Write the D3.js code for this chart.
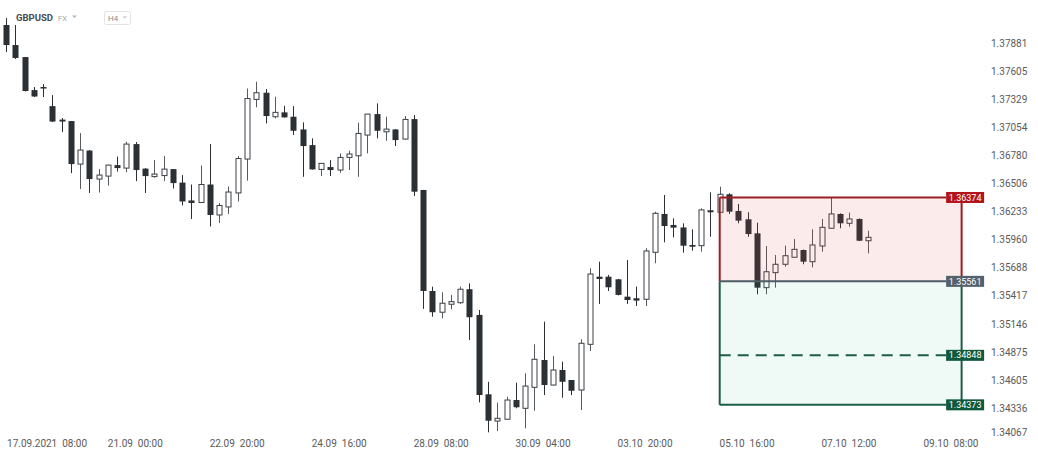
<!DOCTYPE html>
<html><head><meta charset="utf-8">
<script src="https://cdn.jsdelivr.net/npm/d3@7"></script>
<style>body{margin:0;background:#fff}svg{display:block;font-family:Roboto,"Noto Sans",sans-serif}</style>
</head><body>
<svg id="chart" width="1038" height="457"></svg>
<script>
// ---- data (GBPUSD, H4) ----
const opens = [1.38061,1.37864,1.37746,1.37422,1.37452,1.37265,1.37133,1.37119,1.36699,1.36831,
1.36553,1.36582,1.36689,1.36660,1.36894,1.36655,1.36577,1.36587,1.36650,1.36519,
1.36345,1.36325,1.36500,1.36204,1.36282,1.36418,1.36748,1.37331,1.37396,1.37161,
1.37204,1.37161,1.37037,1.36884,1.36647,1.36670,1.36641,1.36764,1.36780,1.36982,
1.37187,1.37014,1.37037,1.36943,1.37138,1.36447,1.35468,1.35263,1.35340,1.35355,
1.35485,1.35237,1.34474,1.34218,1.34235,1.34419,1.34340,1.34541,1.34803,1.34563,
1.34707,1.34611,1.34515,1.34954,1.35606,1.35606,1.35581,1.35413,1.35398,1.35388,
1.35842,1.36214,1.36107,1.36083,1.35913,1.35906,1.36250,1.36230,1.36405,1.36243,
1.36162,1.36026,1.35500,1.35645,1.35726,1.35794,1.35864,1.35751,1.35903,1.36075,
1.36214,1.36123,1.36165,1.35954];
const closes = [1.37864,1.37737,1.37413,1.37359,1.37437,1.37114,1.37114,1.36699,1.36836,1.36553,
1.36592,1.36689,1.36660,1.36894,1.36641,1.36582,1.36602,1.36650,1.36514,1.36335,
1.36320,1.36500,1.36204,1.36296,1.36427,1.36753,1.37339,1.37396,1.37168,1.37204,
1.37155,1.37024,1.36875,1.36647,1.36706,1.36641,1.36764,1.36797,1.36998,1.37187,
1.37024,1.37040,1.36933,1.37135,1.36430,1.35468,1.35263,1.35350,1.35365,1.35485,
1.35215,1.34467,1.34221,1.34244,1.34419,1.34350,1.34553,1.34810,1.34563,1.34707,
1.34594,1.34508,1.34964,1.35632,1.35584,1.35504,1.35430,1.35381,1.35375,1.35855,
1.36220,1.36097,1.36081,1.35906,1.35896,1.36253,1.36230,1.36405,1.36236,1.36149,
1.36019,1.35500,1.35654,1.35726,1.35809,1.35871,1.35751,1.35913,1.36084,1.36214,
1.36123,1.36165,1.35954,1.35987];
const highs = [1.38129,1.38061,1.37746,1.37452,1.37481,1.37373,1.37148,1.37119,1.37001,1.36836,
1.36650,1.36694,1.36772,1.36918,1.36914,1.36660,1.36738,1.36777,1.36650,1.36592,
1.36500,1.36684,1.36894,1.36320,1.36481,1.36777,1.37437,1.37504,1.37432,1.37357,
1.37268,1.37265,1.37106,1.36950,1.36709,1.36738,1.36803,1.36829,1.37102,1.37187,
1.37292,1.37161,1.37040,1.37168,1.37177,1.36447,1.35510,1.35456,1.35430,1.35510,
1.35542,1.35285,1.34594,1.34394,1.34451,1.34585,1.34675,1.34954,1.35172,1.34841,
1.34787,1.34611,1.35002,1.35687,1.35751,1.35622,1.35584,1.35767,1.35510,1.35881,
1.36236,1.36398,1.36172,1.36123,1.36065,1.36269,1.36424,1.36479,1.36415,1.36311,
1.36230,1.36129,1.35903,1.35816,1.35906,1.35971,1.35869,1.36065,1.36165,1.36374,
1.36219,1.36226,1.36170,1.36051];
const lows = [1.37796,1.37727,1.37408,1.37354,1.37354,1.37109,1.37011,1.36611,1.36456,1.36418,
1.36422,1.36490,1.36626,1.36621,1.36533,1.36418,1.36567,1.36533,1.36461,1.36296,
1.36165,1.36320,1.36092,1.36126,1.36214,1.36335,1.36538,1.37253,1.37096,1.37145,
1.37153,1.36982,1.36575,1.36645,1.36582,1.36582,1.36614,1.36641,1.36575,1.36803,
1.36950,1.36926,1.36875,1.36938,1.36389,1.35295,1.35220,1.35205,1.35292,1.35343,
1.34996,1.34397,1.34110,1.34123,1.34233,1.34340,1.34148,1.34317,1.34467,1.34558,
1.34441,1.34467,1.34324,1.34890,1.35343,1.35468,1.35425,1.35343,1.35323,1.35323,
1.35736,1.35939,1.35987,1.35838,1.35857,1.35848,1.35993,1.36228,1.36214,1.36123,
1.35993,1.35436,1.35436,1.35500,1.35703,1.35792,1.35726,1.35697,1.35848,1.36073,
1.36075,1.36090,1.35951,1.35832];

const xTickIndex = [3, 14, 25, 36, 47, 58, 69, 80, 91, 102];
const xTickLabels = ["17.09.2021  08:00","21.09  00:00","22.09  20:00","24.09  16:00","28.09  08:00",
  "30.09  04:00","03.10  20:00","05.10  16:00","07.10  12:00","09.10  08:00"];
const yTickValues = [1.37881,1.37605,1.37329,1.37054,1.36780,1.36506,1.36233,1.35960,1.35688,
  1.35417,1.35146,1.34875,1.34605,1.34336,1.34067];

// trade box levels: stop, entry, target 1, target 2
const tradeLevels = [1.36374, 1.35561, 1.34848, 1.34373];
const tradeStartIndex = 77;
const tradeEndIndex = 103.1;

// ---- chart ----
const W = 1038, H = 457;
const svg = d3.select("#chart");
const n = opens.length;
const x = d3.scaleLinear().domain([0, n - 1]).range([6, 868]);
const y = d3.scaleLog().domain([1.34336, 1.37881]).range([408.7, 43.3]);

const DARK = "#2b3035";
const bodyW = 6;

const candles = d3.range(n).map(i => ({i, o: opens[i], c: closes[i], h: highs[i], l: lows[i]}));

const cg = svg.append("g");
cg.selectAll("line.wick").data(candles).join("line")
  .attr("class", "wick")
  .attr("x1", d => Math.round(x(d.i)) + 0.5).attr("x2", d => Math.round(x(d.i)) + 0.5)
  .attr("y1", d => y(d.h)).attr("y2", d => y(d.l))
  .attr("stroke", d => d.c >= d.o ? "#555a5e" : DARK).attr("stroke-width", 1);

cg.selectAll("rect.body").data(candles).join("rect")
  .attr("class", "body")
  .attr("x", d => Math.round(x(d.i)) - bodyW / 2 + (d.c >= d.o ? 1 : 0.5))
  .attr("width", d => d.c >= d.o ? bodyW - 1 : bodyW)
  .attr("y", d => y(Math.max(d.o, d.c)))
  .attr("height", d => Math.max(1.5, Math.abs(y(d.o) - y(d.c))))
  .attr("fill", d => d.c >= d.o ? "#fff" : DARK)
  .attr("stroke", d => d.c >= d.o ? "#3a3f44" : "none")
  .attr("stroke-width", 1);

// ---- trade box ----
const bx0 = x(tradeStartIndex);
const bx1 = x(tradeEndIndex);
const labelX = bx1 - 15.5;
const bg = svg.append("g");
bg.append("rect").attr("x", bx0).attr("width", bx1 - bx0)
  .attr("y", y(tradeLevels[0])).attr("height", y(tradeLevels[1]) - y(tradeLevels[0]))
  .attr("fill", "rgba(232,70,70,0.11)");
bg.append("rect").attr("x", bx0).attr("width", bx1 - bx0)
  .attr("y", y(tradeLevels[1])).attr("height", y(tradeLevels[3]) - y(tradeLevels[1]))
  .attr("fill", "rgba(40,170,120,0.075)");

const RED = "#9c1d22", GRAY = "#4e5c65", GREEN = "#1f5c45";
[bx0, bx1].forEach(vx => {
  bg.append("line").attr("x1", vx).attr("x2", vx).attr("y1", y(tradeLevels[0])).attr("y2", y(tradeLevels[1]))
    .attr("stroke", RED).attr("stroke-width", 2);
  bg.append("line").attr("x1", vx).attr("x2", vx).attr("y1", y(tradeLevels[1])).attr("y2", y(tradeLevels[3]))
    .attr("stroke", GREEN).attr("stroke-width", 2);
});
const lineStyles = [
  {c: RED, dash: null, box: "#b3141b"},
  {c: GRAY, dash: null, box: "#52616b"},
  {c: GREEN, dash: "11,7", box: "#0f5a3c"},
  {c: GREEN, dash: null, box: "#0f5a3c"}
];
tradeLevels.forEach((v, k) => {
  const st = lineStyles[k];
  bg.append("line").attr("x1", bx0).attr("x2", labelX).attr("y1", y(v)).attr("y2", y(v))
    .attr("stroke", st.c).attr("stroke-width", 2).attr("stroke-dasharray", st.dash);
  bg.append("rect").attr("x", labelX).attr("y", y(v) - 5.5).attr("width", 38).attr("height", 11)
    .attr("fill", st.box);
  bg.append("text").attr("x", labelX + 19).attr("y", y(v)).attr("dy", "0.35em")
    .attr("text-anchor", "middle").attr("fill", "#fff").attr("font-size", 9).text(v.toFixed(5));
});

// ---- axes ----
const yAxis = d3.axisRight(y).tickValues(yTickValues).tickSize(0).tickPadding(0)
  .tickFormat(d => d.toFixed(5));
const yg = svg.append("g").attr("transform", "translate(991,0)").call(yAxis);
yg.select(".domain").remove();
yg.selectAll("text").attr("fill", "#5a5a5a").attr("font-size", 10).attr("font-family", "Roboto, sans-serif");
yg.selectAll(".tick").attr("transform", d => `translate(0,${Math.min(y(d), H - 24)})`);

const xAxis = d3.axisBottom(x).tickValues(xTickIndex).tickSize(0).tickPadding(6)
  .tickFormat((d, k) => xTickLabels[k]);
const xg = svg.append("g").attr("transform", "translate(-1,434)").call(xAxis);
xg.select(".domain").remove();
xg.selectAll("text").attr("fill", "#5a5a5a").attr("font-size", 10).attr("font-family", "Roboto, sans-serif")
  .style("white-space", "pre")
  .each(function() {
    const w = this.getComputedTextLength();
    const t = d3.select(this.parentNode).attr("transform");
    const tx = +t.match(/translate\(([-\d.]+)/)[1] - 1;
    if (tx - w / 2 < 7) d3.select(this).attr("x", 7 - tx + w / 2);
  });

// ---- header ----
const hd = svg.append("g");
hd.append("text").attr("x", 16).attr("y", 21).attr("font-size", 9.5).attr("font-weight", "bold")
  .attr("fill", "#454a50").text("GBPUSD");
hd.append("text").attr("x", 58).attr("y", 20.5).attr("font-size", 7.5).attr("fill", "#a6a6a6").text("FX");
hd.append("path").attr("d", "M72,15.5 L77,15.5 L74.5,18 Z").attr("fill", "#b5b5b5");
hd.append("rect").attr("x", 104.5).attr("y", 11.5).attr("width", 26).attr("height", 13).attr("rx", 2)
  .attr("fill", "#fff").attr("stroke", "#e2e2e2");
hd.append("text").attr("x", 108).attr("y", 21).attr("font-size", 8).attr("fill", "#8c8c8c").text("H4");
hd.append("path").attr("d", "M122.5,16.5 L127,16.5 L124.75,18.5 Z").attr("fill", "#c0c0c0");
</script>
</body></html>
